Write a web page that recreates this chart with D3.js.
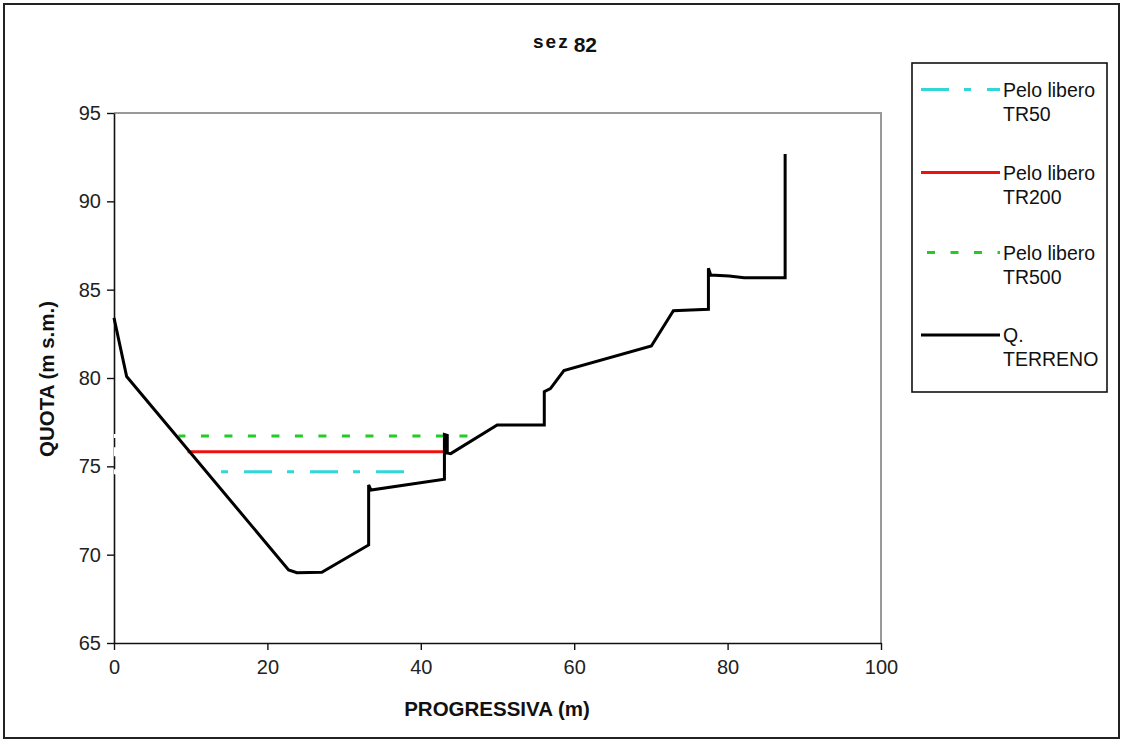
<!DOCTYPE html>
<html>
<head>
<meta charset="utf-8">
<script src="https://cdn.jsdelivr.net/npm/d3@7"></script>
<style>
  html, body { margin: 0; padding: 0; background: #fff; }
  svg { display: block; }
  text { font-family: "Liberation Sans", Arial, sans-serif; }
</style>
</head>
<body>
<svg id="chart" width="1123" height="742"></svg>
<script>
// ---------------- data ----------------
const titleA = "sez";
const titleB = "82";
const xTitle = "PROGRESSIVA (m)";
const yTitle = "QUOTA (m s.m.)";

const xTicks = [0, 20, 40, 60, 80, 100];
const yTicks = [65, 70, 75, 80, 85, 90, 95];

// terrain profile (Q. TERRENO)
const terrainX = [0, 1.65, 22.76, 23.85, 27.1, 33.2, 33.2, 33.5, 43.08, 43.08, 43.45, 43.45, 43.9, 49.96, 56.1, 56.1, 56.9, 58.66, 70.06, 72.93, 75.2, 77.5, 77.5, 77.8, 80.2, 82.15, 87.5, 87.5];
const terrainY = [83.4, 80.08, 69.14, 68.98, 69.0, 70.55, 73.95, 73.66, 74.27, 76.8, 76.75, 75.75, 75.72, 77.34, 77.34, 79.23, 79.4, 80.42, 81.81, 83.81, 83.85, 83.89, 86.21, 85.83, 85.78, 85.68, 85.68, 92.68];

// water levels
const levelNames = ["Pelo libero TR50", "Pelo libero TR200", "Pelo libero TR500"];
const levelValues = [74.7, 75.83, 76.72];
const levelStart = [12.0, 9.6, 8.4];
const levelEnd = [38.2, 43.08, 47.8];
const terrainName = "Q. TERRENO";

// legend labels (two lines each)
const legendLines = [["Pelo libero", "TR50"], ["Pelo libero", "TR200"], ["Pelo libero", "TR500"], ["Q.", "TERRENO"]];

// ---------------- layout ----------------
const svg = d3.select("#chart");
const plot = { left: 114, right: 881, top: 113, bottom: 643 };

const x = d3.scaleLinear().domain([0, 100]).range([plot.left, plot.right]);
const y = d3.scaleLinear().domain([65, 95]).range([plot.bottom, plot.top]);

// outer frame
svg.append("rect")
  .attr("x", 4).attr("y", 4).attr("width", 1115).attr("height", 734)
  .attr("fill", "#fff").attr("stroke", "#222").attr("stroke-width", 2);

// title
const title = svg.append("text")
  .attr("x", 565).attr("y", 52)
  .attr("text-anchor", "middle")
  .attr("font-weight", "bold")
  .attr("fill", "#111");
title.append("tspan").attr("font-size", 19).attr("letter-spacing", 2).attr("dy", -4).text(titleA);
title.append("tspan").attr("font-size", 21).attr("dy", 4).attr("dx", 4).text(titleB);

// plot area border (top/right gray)
svg.append("path")
  .attr("d", `M${plot.left},${plot.top}H${plot.right}V${plot.bottom}`)
  .attr("fill", "none").attr("stroke", "#999").attr("stroke-width", 2);

// axes
const xAxis = d3.axisBottom(x).tickValues(xTicks).tickSize(7).tickSizeOuter(0).tickPadding(10);
const yAxis = d3.axisLeft(y).tickValues(yTicks).tickSize(7).tickSizeOuter(0).tickPadding(6);

const gx = svg.append("g").attr("transform", `translate(0,${plot.bottom})`).call(xAxis);
const gy = svg.append("g").attr("transform", `translate(${plot.left},0)`).call(yAxis);
[gx, gy].forEach(g => {
  g.select(".domain").attr("stroke", "#111").attr("stroke-width", 1.6);
  g.selectAll(".tick line").attr("stroke", "#111").attr("stroke-width", 1.4);
  g.selectAll(".tick text")
    .attr("font-family", "'Liberation Sans', Arial, sans-serif")
    .attr("font-size", 20).attr("fill", "#222");
});

// axis titles
svg.append("text")
  .attr("x", 497).attr("y", 716)
  .attr("text-anchor", "middle").attr("font-weight", "bold")
  .attr("font-size", 20.5).attr("fill", "#111")
  .text(xTitle);
svg.append("text")
  .attr("transform", `translate(54,379) rotate(-90)`)
  .attr("text-anchor", "middle").attr("font-weight", "bold")
  .attr("font-size", 20.5).attr("fill", "#111")
  .text(yTitle);

// ---------------- series ----------------
const styles = [
  { color: "#33d6d6", width: 3, dash: "28,15,7,16", offset: 28, ghost: 5 },
  { color: "#ee1111", width: 3, dash: null, offset: 0, ghost: 9 },
  { color: "#22cc22", width: 3, dash: "8,15.5", offset: 1, ghost: 4 }
];
const terrainStyle = { color: "#000", width: 3 };

const line = d3.line().x(d => x(d[0])).y(d => y(d[1]));

// white leader segments of the level series (they blank out the y axis where they cross it)
levelValues.forEach((v, i) => {
  svg.append("path")
    .attr("d", line([[0, v], [levelStart[i], v]]))
    .attr("fill", "none").attr("stroke", "#fff")
    .attr("stroke-width", styles[i].ghost);
});

levelValues.forEach((v, i) => {
  const p = svg.append("path")
    .attr("d", line([[levelStart[i], v], [levelEnd[i], v]]))
    .attr("fill", "none")
    .attr("stroke", styles[i].color)
    .attr("stroke-width", styles[i].width);
  if (styles[i].dash) p.attr("stroke-dasharray", styles[i].dash).attr("stroke-dashoffset", styles[i].offset);
});

svg.append("path")
  .attr("d", line(terrainX.map((d, i) => [d, terrainY[i]])))
  .attr("fill", "none")
  .attr("stroke", terrainStyle.color)
  .attr("stroke-width", terrainStyle.width)
  .attr("stroke-linejoin", "miter");

// ---------------- legend ----------------
const legend = svg.append("g");
legend.append("rect")
  .attr("x", 912).attr("y", 63).attr("width", 195).attr("height", 329)
  .attr("fill", "#fff").attr("stroke", "#111").attr("stroke-width", 1.6);

const legendStyles = styles.concat([{ color: terrainStyle.color, width: terrainStyle.width, dash: null, offset: 0 }]);
const legendY = [89.5, 172.5, 252.5, 335];
legendStyles.forEach((s, i) => {
  const ly = legendY[i];
  const l = legend.append("line")
    .attr("x1", 921).attr("x2", 1000).attr("y1", ly).attr("y2", ly)
    .attr("stroke", s.color).attr("stroke-width", s.width);
  if (s.dash) l.attr("stroke-dasharray", s.dash).attr("stroke-dashoffset", i === 2 ? -6 : 0);
  legendLines[i].forEach((t, k) => {
    legend.append("text")
      .attr("x", 1003).attr("y", ly + 7 + k * 24)
      .attr("font-size", 19.5).attr("fill", "#111")
      .text(t);
  });
});
</script>
</body>
</html>
